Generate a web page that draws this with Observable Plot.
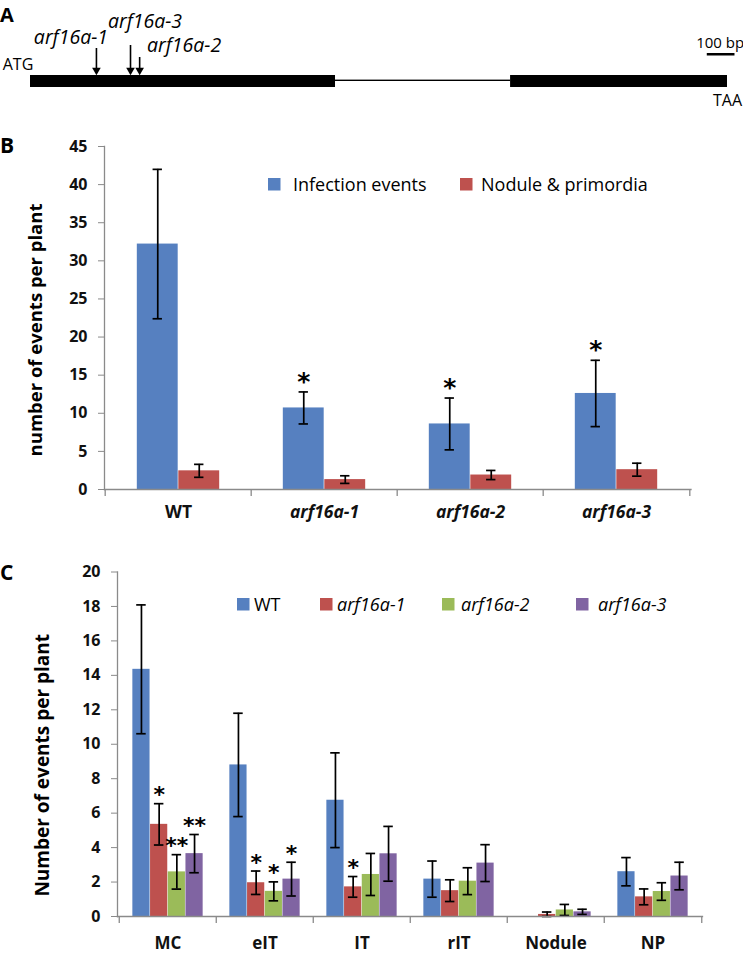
<!DOCTYPE html>
<html><head><meta charset="utf-8">
<script src="https://cdn.jsdelivr.net/npm/d3@7"></script>
<script src="https://cdn.jsdelivr.net/npm/@observablehq/plot@0.6"></script>
<style>
body{margin:0;background:#fff;}
#root{position:relative;width:743px;height:954px;overflow:hidden;background:#fff;font-family:"Open Sans",sans-serif;}
#root > svg{position:absolute;left:0;}
</style></head><body><div id="root"></div>
<script>
// ---------------- Panel A: gene model (bp) ----------------
const geneFeatures = ["exon 1", "exon 2"];
const exonStart = [0, 1733];
const exonEnd = [1101, 2516];
const mutantNames = ["arf16a-1", "arf16a-2", "arf16a-3"];
const mutantPos = [238, 394, 361];
const scaleBarBp = 100;
const startCodon = "ATG";
const stopCodon = "TAA";

// ---------------- Panel B ----------------
const genotypes = ["WT", "arf16a-1", "arf16a-2", "arf16a-3"];
const seriesB = ["Infection events", "Nodule & primordia"];
const infectionMean = [32.2, 10.7, 8.6, 12.6];
const infectionErr = [9.8, 2.1, 3.4, 4.35];
const infectionSig = ["", "*", "*", "*"];
const noduleMean = [2.45, 1.3, 1.9, 2.6];
const noduleErr = [0.85, 0.5, 0.6, 0.85];
const noduleSig = ["", "", "", ""];

// ---------------- Panel C ----------------
const eventTypes = ["MC", "eIT", "IT", "rIT", "Nodule", "NP"];
const wtMean = [14.35, 8.8, 6.75, 2.17, 0, 2.6];
const wtErr = [3.74, 3.0, 2.75, 1.05, 0, 0.82];
const m1Mean = [5.35, 1.96, 1.72, 1.5, 0.12, 1.14];
const m1Err = [1.2, 0.68, 0.6, 0.63, 0.14, 0.46];
const m2Mean = [2.59, 1.46, 2.44, 2.05, 0.38, 1.45];
const m2Err = [1.0, 0.55, 1.22, 0.78, 0.32, 0.51];
const m3Mean = [3.65, 2.17, 3.64, 3.1, 0.27, 2.35];
const m3Err = [1.11, 0.98, 1.59, 1.07, 0.15, 0.8];
const wtSig = ["", "", "", "", "", ""];
const m1Sig = ["*", "*", "*", "", "", ""];
const m2Sig = ["**", "*", "", "", "", ""];
const m3Sig = ["**", "*", "", "", "", ""];

const colorsB = ["#5680C0", "#BE514E"];
const colorsC = ["#5680C0", "#BE514E", "#9BBB59", "#8064A2"];

const FONT = "'Open Sans', sans-serif";
const root = document.getElementById("root");
function place(svg, top) { svg.style.top = top + "px"; root.appendChild(svg); }

// ---------- Panel A ----------
(function () {
  const exons = geneFeatures.map((f, i) => ({feature: f, start: exonStart[i], end: exonEnd[i]}));
  const introns = [{start: exonEnd[0], end: exonStart[1]}];
  const mutants = mutantNames.map((n, i) => ({name: n, pos: mutantPos[i]}));
  const geneEnd = exonEnd[exonEnd.length - 1];
  const sbEnd = geneEnd + 27;
  const scaleBar = [{start: sbEnd - scaleBarBp, end: sbEnd, label: scaleBarBp + " bp"}];
  const arrowTop = {"arf16a-1": 48, "arf16a-2": 57, "arf16a-3": 45};
  const labelOff = {"arf16a-1": [-25.5, 37], "arf16a-2": [44.4, 45.5], "arf16a-3": [14.5, 21]};
  const marks = [
    Plot.barX(exons, {x1: "start", x2: "end", fill: "#000", insetTop: 75, insetBottom: 33}),
    Plot.barX(introns, {x1: "start", x2: "end", fill: "#000", insetTop: 79.6, insetBottom: 39}),
    Plot.barX(scaleBar, {x1: "start", x2: "end", fill: "#000", insetTop: 53, insetBottom: 64.5}),
    Plot.text(scaleBar, {x: d => (d.start + d.end) / 2, text: "label", frameAnchor: "top", dy: 42.5, dx: -1, lineAnchor: "middle", fontSize: 15}),
    Plot.text([startCodon], {x: () => exonStart[0], text: d => d, frameAnchor: "top", dy: 64.5, dx: -12.5, lineAnchor: "middle", fontSize: 16}),
    Plot.text([stopCodon], {x: () => geneEnd, text: d => d, frameAnchor: "top", dy: 100, dx: 0, lineAnchor: "middle", fontSize: 16}),
    Plot.dot(mutants, {x: "pos", frameAnchor: "top", dy: 69.8, symbol: "triangle", rotate: 180, r: 3.2, fill: "#000"})
  ];
  mutants.forEach(m => {
    marks.push(Plot.ruleX([m], {x: "pos", stroke: "#000", strokeWidth: 1.6, insetTop: arrowTop[m.name], insetBottom: 120 - 70}));
    marks.push(Plot.text([m], {x: "pos", text: "name", frameAnchor: "top", dx: labelOff[m.name][0], dy: labelOff[m.name][1], lineAnchor: "middle", fontStyle: "italic", fontSize: 19.5}));
  });
  const svg = Plot.plot({width: 743, height: 120, margin: 0, style: {fontFamily: FONT, color: "#000", background: "transparent"},
    x: {domain: [0, geneEnd], range: [30, 727], axis: null}, marks});
  place(svg, 0);
})();

// ---------- grouped bar builder ----------
function groupedBars(cfg) {
  const {cats, series, rows, colors, width, height, ml, mr, mt, mb, yMax, yStep, barW, capW,
         starSize, starDy, catDy, catSize, italicCats, yLabel, yLabelDx, yLabelDy, yLabelSize} = cfg;
  const bw = (width - ml - mr) / cats.length;
  const n = series.length;
  const plotH = height - mt - mb;
  const marks = [];
  series.forEach((s, j) => {
    const off = (j - (n - 1) / 2) * barW;
    const data = rows.filter(r => r.series === s);
    marks.push(Plot.barY(data.filter(r => r.mean > 0), {x: "cat", y: "mean", fill: colors[j],
      insetLeft: bw / 2 + off - barW / 2, insetRight: bw / 2 - off - barW / 2}));
    const ed = data.filter(r => r.err > 0);
    const lo = r => Math.max(0, r.mean - r.err), hi = r => r.mean + r.err;
    marks.push(Plot.ruleX(ed, {x: "cat", y1: lo, y2: hi, dx: off, stroke: "#000", strokeWidth: 1.7}));
    marks.push(Plot.tickY(ed, {x: "cat", y: hi, dx: off, insetLeft: bw / 2 - capW / 2, insetRight: bw / 2 - capW / 2, stroke: "#000", strokeWidth: 1.7}));
    marks.push(Plot.tickY(ed, {x: "cat", y: lo, dx: off, insetLeft: bw / 2 - capW / 2, insetRight: bw / 2 - capW / 2, stroke: "#000", strokeWidth: 1.7}));
    marks.push(Plot.text(data.filter(r => r.sig), {x: "cat", y: hi, text: "sig", dx: off, dy: starDy,
      fontSize: starSize, fontFamily: "DejaVu Sans", fontWeight: "bold", lineAnchor: "middle", fill: "#000"}));
  });
  marks.push(
    Plot.frame({anchor: "left", stroke: "#8a8a8a", strokeWidth: 1.3}),
    Plot.frame({anchor: "bottom", stroke: "#8a8a8a", strokeWidth: 1.3}),
    Plot.ruleX(cats, {x: d => d, dx: -bw / 2, insetTop: plotH, insetBottom: -7, stroke: "#8a8a8a", strokeWidth: 1.3}),
    Plot.ruleX([cats[cats.length - 1]], {x: d => d, dx: bw / 2, insetTop: plotH, insetBottom: -7, stroke: "#8a8a8a", strokeWidth: 1.3}),
    Plot.axisY({ticks: d3.range(0, yMax + 1e-9, yStep), tickSize: 6, tickPadding: 11, stroke: "#8a8a8a", fill: "#111",
      fontSize: 16, fontWeight: "bold", label: null}),
    Plot.text(cats.filter(c => !italicCats.includes(c)), {x: d => d, text: d => d, frameAnchor: "bottom", dy: catDy,
      lineAnchor: "middle", fontSize: catSize, fontWeight: "bold", fill: "#111"}),
    Plot.text(cats.filter(c => italicCats.includes(c)), {x: d => d, text: d => d, frameAnchor: "bottom", dy: catDy,
      lineAnchor: "middle", fontSize: catSize, fontWeight: "bold", fontStyle: "italic", fill: "#111"}),
    Plot.text([yLabel], {frameAnchor: "left", text: d => d, rotate: -90, dx: yLabelDx, dy: yLabelDy,
      textAnchor: "middle", lineAnchor: "middle", fontWeight: "bold", fontSize: yLabelSize, fill: "#000"})
  );
  return Plot.plot({width, height, marginLeft: ml, marginRight: mr, marginTop: mt, marginBottom: mb,
    style: {fontFamily: FONT, color: "#000", background: "transparent", overflow: "visible"},
    x: {type: "band", domain: cats, padding: 0, axis: null},
    y: {domain: [0, yMax], axis: null},
    marks});
}

// ---------- Panel B ----------
(function () {
  const rows = [];
  genotypes.forEach((g, i) => {
    rows.push({cat: g, series: seriesB[0], mean: infectionMean[i], err: infectionErr[i], sig: infectionSig[i]});
    rows.push({cat: g, series: seriesB[1], mean: noduleMean[i], err: noduleErr[i], sig: noduleSig[i]});
  });
  const svg = groupedBars({cats: genotypes, series: seriesB, rows, colors: colorsB,
    width: 743, height: 410, ml: 104, mr: 52.5, mt: 26, mb: 41, yMax: 45, yStep: 5,
    barW: 41.5, capW: 10, starSize: 25, starDy: -10, catDy: 22.5, catSize: 17.5,
    italicCats: genotypes.slice(1), yLabel: "number of events per plant", yLabelDx: -68, yLabelDy: 12, yLabelSize: 18.5});
  place(svg, 120);
})();

// ---------- Panel C ----------
(function () {
  const gens = genotypes;
  const means = [wtMean, m1Mean, m2Mean, m3Mean];
  const errs = [wtErr, m1Err, m2Err, m3Err];
  const sigs = [wtSig, m1Sig, m2Sig, m3Sig];
  const rows = [];
  eventTypes.forEach((c, i) => gens.forEach((g, j) => rows.push({cat: c, series: g, mean: means[j][i], err: errs[j][i], sig: sigs[j][i]})));
  const svg = groupedBars({cats: eventTypes, series: gens, rows, colors: colorsC,
    width: 743, height: 424, ml: 117, mr: 41, mt: 41.5, mb: 38, yMax: 20, yStep: 2,
    barW: 17.7, capW: 10, starSize: 22, starDy: -8.5, catDy: 27, catSize: 17,
    italicCats: [], yLabel: "Number of events per plant", yLabelDx: -75, yLabelDy: 21, yLabelSize: 19});
  place(svg, 530);
})();

// ---------- Overlay: panel letters and legends ----------
(function () {
  const ov = d3.select(root).append("svg").attr("width", 743).attr("height", 954)
    .style("top", "0px").style("font-family", FONT).style("pointer-events", "none");
  const letters = [["A", 21.5, 20], ["B", 153, 21], ["C", 580, 21]];
  ov.selectAll("text.letter").data(letters).join("text").attr("class", "letter")
    .attr("x", 0).attr("y", d => d[1]).attr("font-size", d => d[2]).attr("font-weight", "bold").text(d => d[0]);

  const legB = seriesB.map((s, i) => ({label: s, color: colorsB[i], sx: [268, 460][i], tx: [293, 481][i], italic: false}));
  const legC = genotypes.map((g, i) => ({label: g, color: colorsC[i], sx: [237, 320, 442, 576][i], tx: [254, 337, 461, 598][i], italic: i > 0}));
  function legend(items, top, baseline, size) {
    const g = ov.append("g");
    g.selectAll("rect").data(items).join("rect").attr("x", d => d.sx).attr("y", top).attr("width", 12.5).attr("height", 12.5)
      .attr("fill", d => d.color);
    g.selectAll("text").data(items).join("text").attr("x", d => d.tx).attr("y", baseline).attr("font-size", size)
      .attr("font-style", d => d.italic ? "italic" : "normal").attr("fill", "#000").text(d => d.label);
  }
  legend(legB, 178, 191, 18);
  legend(legC, 598, 611, 18);
})();
</script>
</body></html>
